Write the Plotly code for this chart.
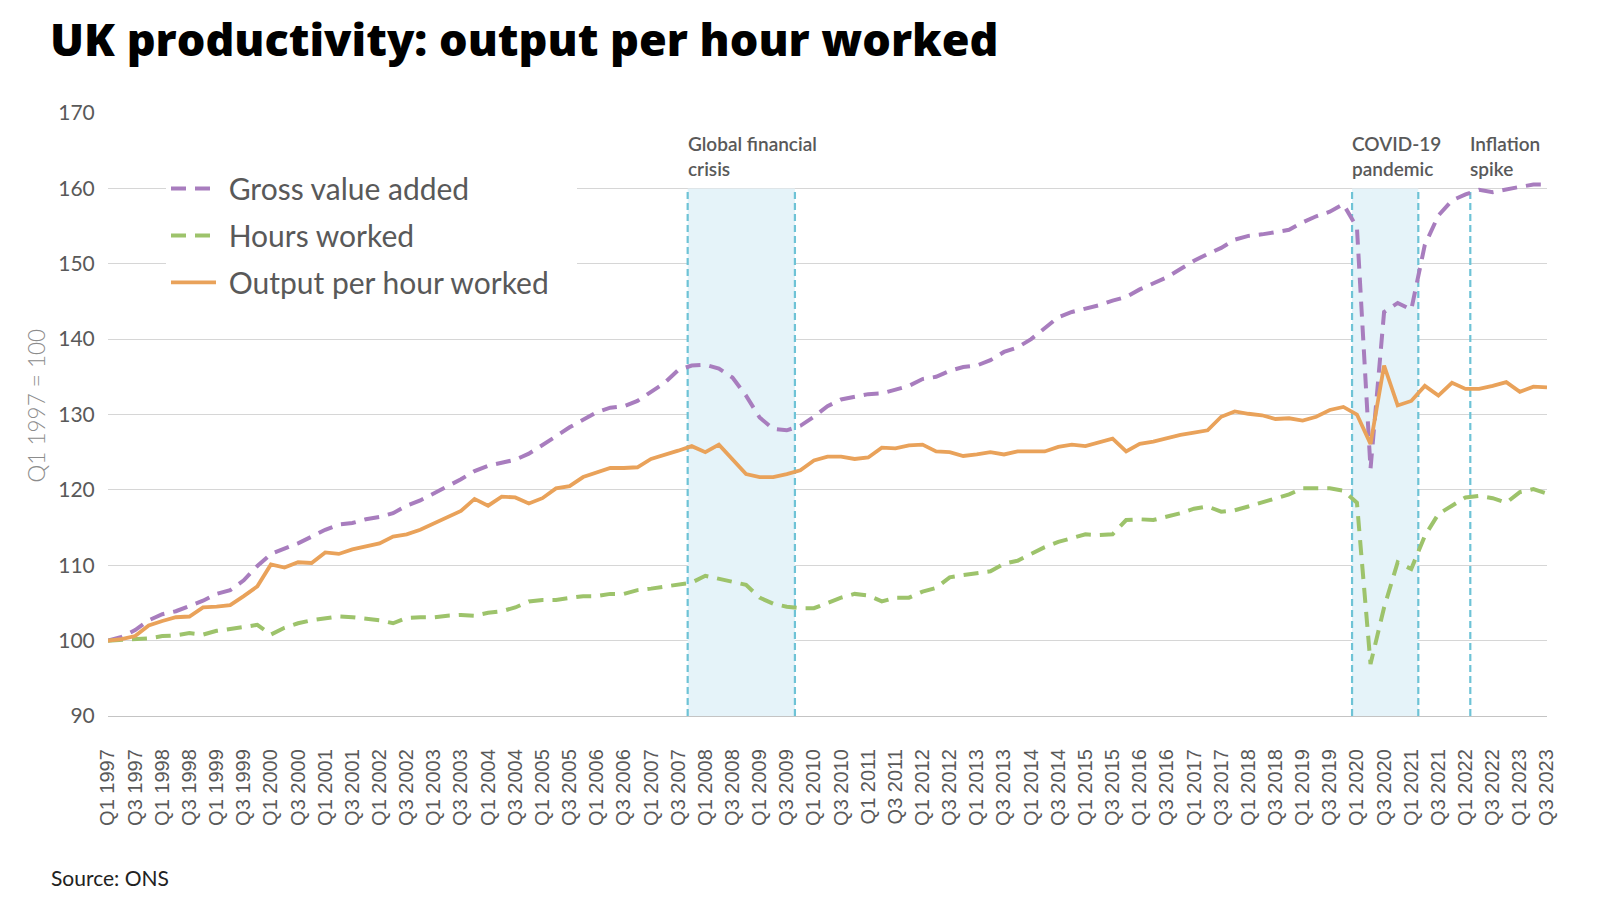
import plotly.graph_objects as go

# ---- data (index, Q1 1997 = 100) ----
years = list(range(1997, 2024))
quarters = [f"Q{q} {y}" for y in years for q in (1, 2, 3, 4)][:107]   # Q1 1997 .. Q3 2023
tick_labels = quarters[::2]

gva = [100.0, 100.5, 101.4, 102.7, 103.5, 103.9, 104.6, 105.3, 106.2, 106.7,
       108.0, 109.9, 111.5, 112.2, 112.9, 113.8, 114.7, 115.4, 115.6, 116.1,
       116.4, 116.9, 117.9, 118.6, 119.5, 120.4, 121.4, 122.5, 123.2, 123.6,
       124.0, 124.8, 125.9, 127.1, 128.3, 129.3, 130.3, 130.9, 131.1, 131.8,
       133.0, 134.2, 135.9, 136.5, 136.6, 136.1, 134.9, 132.5, 129.6, 128.1,
       127.9, 128.5, 129.7, 131.1, 132.0, 132.3, 132.7, 132.8, 133.3, 133.8,
       134.7, 135.0, 135.8, 136.3, 136.5, 137.2, 138.3, 138.9, 140.0, 141.4,
       142.9, 143.6, 144.0, 144.5, 145.1, 145.6, 146.6, 147.4, 148.2, 149.3,
       150.4, 151.3, 152.1, 153.2, 153.7, 153.9, 154.2, 154.5, 155.5, 156.3,
       156.9, 157.9, 154.8, 122.8, 143.6, 144.8, 143.9, 152.5, 156.4, 158.4,
       159.2, 159.8, 159.5, 159.9, 160.2, 160.5, 160.5]

hours = [100.0, 100.1, 100.3, 100.3, 100.6, 100.7, 101.0, 100.8, 101.3, 101.5,
         101.8, 102.1, 100.8, 101.7, 102.3, 102.7, 102.9, 103.2, 103.1, 102.9,
         102.7, 102.3, 103.0, 103.1, 103.1, 103.3, 103.4, 103.3, 103.7, 103.9,
         104.4, 105.2, 105.4, 105.4, 105.6, 105.9, 105.9, 106.2, 106.2, 106.7,
         106.9, 107.2, 107.4, 107.7, 108.6, 108.2, 107.7, 107.4, 105.7, 104.9,
         104.5, 104.3, 104.3, 105.0, 105.7, 106.2, 106.0, 105.2, 105.7, 105.7,
         106.5, 107.0, 108.4, 108.7, 108.9, 109.2, 110.2, 110.6, 111.5, 112.4,
         113.1, 113.6, 114.1, 114.0, 114.1, 116.0, 116.1, 116.0, 116.4, 116.9,
         117.5, 117.8, 117.1, 117.3, 117.8, 118.3, 118.8, 119.4, 120.2, 120.2,
         120.2, 119.9, 118.3, 96.9, 104.4, 110.4, 109.5, 113.9, 116.8, 117.9,
         119.0, 119.2, 118.9, 118.3, 119.7, 120.1, 119.5]

oph = [100.0, 100.2, 100.6, 102.0, 102.6, 103.1, 103.2, 104.4, 104.5, 104.7,
       105.9, 107.2, 110.1, 109.7, 110.4, 110.3, 111.7, 111.5, 112.1, 112.5,
       112.9, 113.8, 114.1, 114.7, 115.5, 116.3, 117.2, 118.8, 117.9, 119.1,
       119.0, 118.2, 118.9, 120.2, 120.5, 121.7, 122.3, 122.9, 122.9, 123.0,
       124.1, 124.6, 125.2, 125.8, 125.0, 126.0, 124.1, 122.1, 121.7, 121.7,
       122.1, 122.6, 123.9, 124.4, 124.4, 124.1, 124.3, 125.6, 125.5, 125.9,
       126.0, 125.1, 125.0, 124.5, 124.7, 125.0, 124.7, 125.1, 125.1, 125.1,
       125.7, 126.0, 125.8, 126.3, 126.8, 125.1, 126.1, 126.4, 126.9, 127.3,
       127.6, 127.9, 129.7, 130.4, 130.1, 129.9, 129.4, 129.5, 129.2, 129.7,
       130.6, 131.0, 130.0, 126.1, 136.5, 131.2, 131.8, 133.8, 132.5, 134.2,
       133.4, 133.4, 133.8, 134.3, 133.0, 133.7, 133.6]

series_names = ["Gross value added", "Hours worked", "Output per hour worked"]

# event periods (positions in quarter-index units) and labels
shaded_periods = [(42.7, 50.6), (91.64, 96.52)]
marker_lines = [42.7, 50.6, 91.64, 96.52, 100.35]
event_labels = ["Global financial<br>crisis", "COVID-19<br>pandemic", "Inflation<br>spike"]
event_label_x = [42.7, 91.64, 100.35]

PURPLE = "#A87DBE"
GREEN = "#9DC36B"
ORANGE = "#E9A25A"
GREY_TXT = "#595959"
NB = "\u00a0"

fig = go.Figure()
fig.add_trace(go.Scatter(x=quarters, y=gva, mode="lines", name=NB + series_names[0],
                         legendgroup="a",
                         line=dict(color=PURPLE, width=4, dash="15px,9px")))
fig.add_trace(go.Scatter(x=quarters, y=hours, mode="lines", name=NB + series_names[1],
                         legendgroup="b",
                         line=dict(color=GREEN, width=4, dash="15px,9px")))
fig.add_trace(go.Scatter(x=quarters, y=oph, mode="lines",
                         name=NB + series_names[2] + NB * 3,
                         legendgroup="c",
                         line=dict(color=ORANGE, width=3.8)))

shapes = []
for x0, x1 in shaded_periods:
    shapes.append(dict(type="rect", xref="x", yref="y", x0=x0, x1=x1, y0=90, y1=160,
                       fillcolor="#E5F3F9", line=dict(width=0), layer="between"))
for xv in marker_lines:
    shapes.append(dict(type="line", xref="x", yref="y", x0=xv, x1=xv, y0=90, y1=160,
                       line=dict(color="#6EC3D6", width=2.2, dash="7px,4px"),
                       layer="between"))

annotations = []
for txt, xv in zip(event_labels, event_label_x):
    annotations.append(dict(text=txt, x=xv, y=164.3, xref="x", yref="y",
                            xanchor="left", yanchor="middle", align="left",
                            showarrow=False, xshift=-2,
                            font=dict(family="Lato", size=19, color=GREY_TXT, weight=600)))
annotations.append(dict(text="Q1 1997 = 100", textangle=-90, x=(28 - 100) / 1439,
                        y=0.515, xref="paper", yref="paper",
                        xanchor="center", yanchor="middle", showarrow=False,
                        font=dict(family="Lato", size=22.5, color="#8C8C8C", weight=300)))
annotations.append(dict(text="Source: ONS", x=(41 - 100) / 1439, y=(711 - 873) / 603,
                        xref="paper", yref="paper", xanchor="left", yanchor="middle",
                        showarrow=False,
                        font=dict(family="Lato", size=21, color="#222222")))

fig.update_layout(
    width=1600, height=900,
    paper_bgcolor="white", plot_bgcolor="white",
    margin=dict(l=100, r=61, t=105, b=192),
    title=dict(text="UK productivity: output per hour worked",
               x=42 / 1600, xanchor="left", xref="container",
               y=1 - 32 / 900, yanchor="middle", yref="container",
               font=dict(family="Open Sans", size=45, weight=800, color="#000000")),
    xaxis=dict(type="category", range=[0, 106], tickmode="array",
               tickvals=tick_labels, ticktext=tick_labels, tickangle=-90,
               tickfont=dict(family="Liberation Sans", size=20, color=GREY_TXT),
               ticks="outside", ticklen=24, tickcolor="rgba(0,0,0,0)",
               showgrid=False, showline=True, linecolor="#C4C4C4", linewidth=1.3,
               zeroline=False),
    yaxis=dict(range=[90, 170], tickmode="array",
               tickvals=[90, 100, 110, 120, 130, 140, 150, 160, 170],
               tickfont=dict(family="Lato", size=21, color=GREY_TXT),
               ticks="outside", ticklen=8, tickcolor="rgba(0,0,0,0)",
               showgrid=True, gridcolor="#D6D6D6", gridwidth=1.3,
               zeroline=False, showline=False),
    legend=dict(x=0.0403, y=0.918, xanchor="left", yanchor="top",
                bgcolor="white", borderwidth=0,
                font=dict(family="Lato", size=30, color=GREY_TXT),
                itemwidth=45, tracegroupgap=5, traceorder="grouped"),
    shapes=shapes,
    annotations=annotations,
    showlegend=True,
)

fig.write_html("out.html")
